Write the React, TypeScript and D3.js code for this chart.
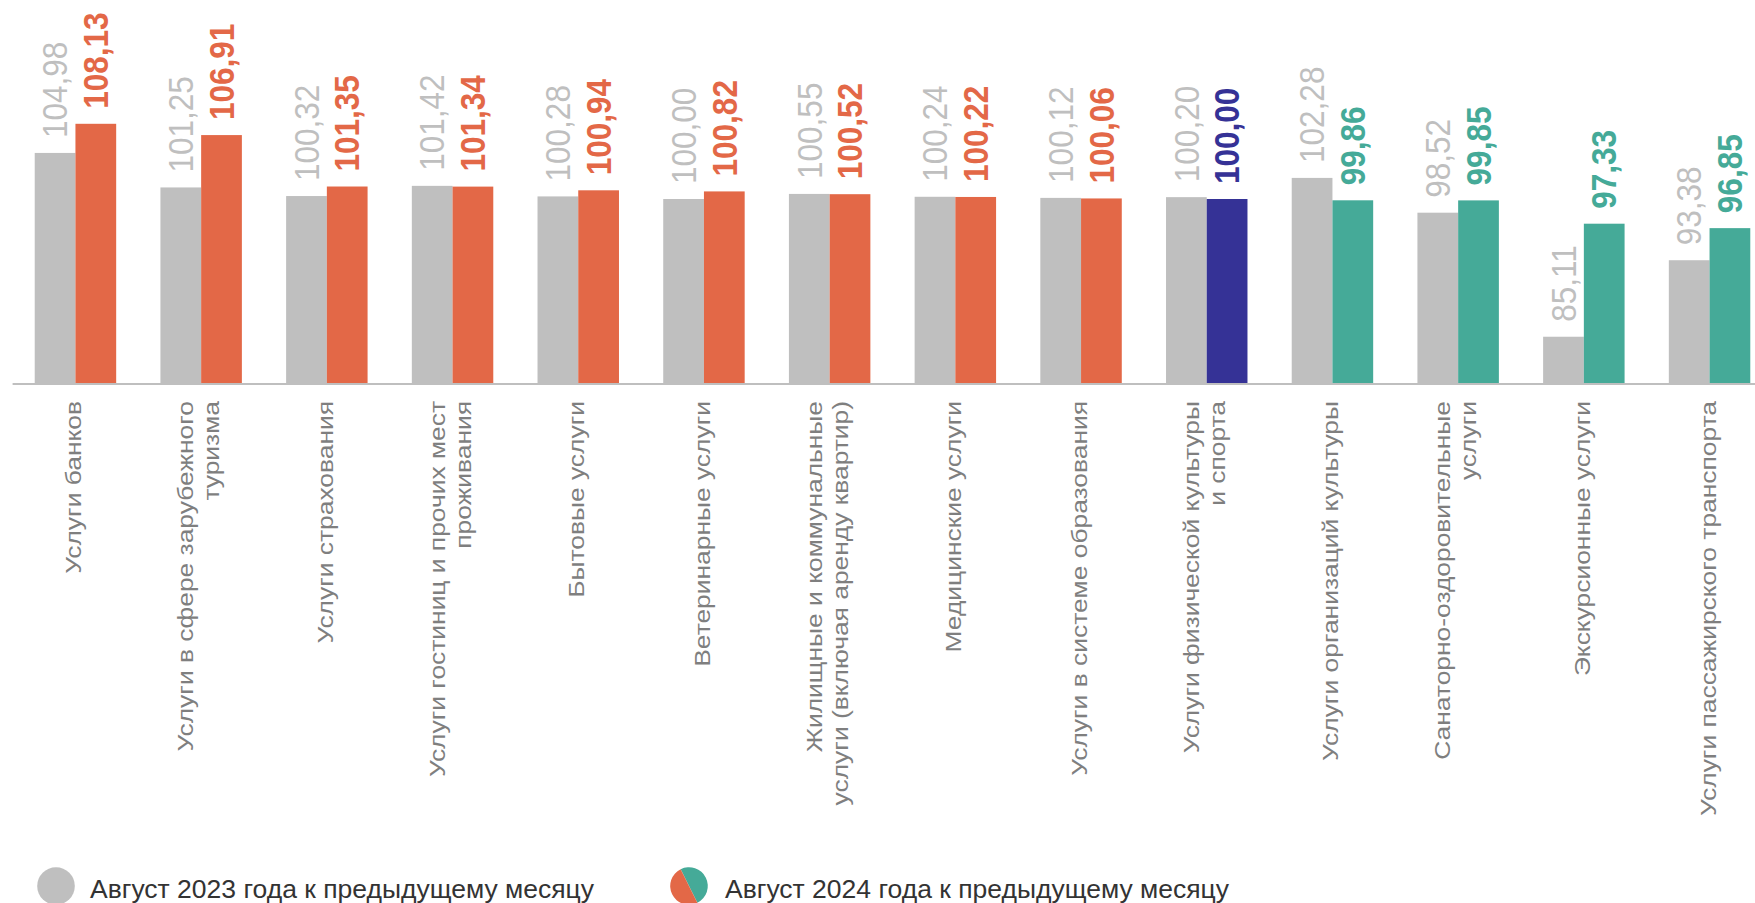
import * as d3 from "d3";

const categories = [
  "Услуги банков",
  "Услуги в сфере зарубежного\nтуризма",
  "Услуги страхования",
  "Услуги гостиниц и прочих мест\nпроживания",
  "Бытовые услуги",
  "Ветеринарные услуги",
  "Жилищные и коммунальные\nуслуги (включая аренду квартир)",
  "Медицинские услуги",
  "Услуги в системе образования",
  "Услуги физической культуры\nи спорта",
  "Услуги организаций культуры",
  "Санаторно-оздоровительные\nуслуги",
  "Экскурсионные услуги",
  "Услуги пассажирского транспорта",
];

const values2023 = [104.98, 101.25, 100.32, 101.42, 100.28, 100.0, 100.55, 100.24, 100.12, 100.2, 102.28, 98.52, 85.11, 93.38];
const values2024 = [108.13, 106.91, 101.35, 101.34, 100.94, 100.82, 100.52, 100.22, 100.06, 100.0, 99.86, 99.85, 97.33, 96.85];

const seriesKeys = ["2023", "2024"];
const seriesLabels = ["Август 2023 года к предыдущему месяцу", "Август 2024 года к предыдущему месяцу"];

const GRAY = "#bfbfbf";
const ORANGE = "#e36847";
const TEAL = "#45aa98";
const NAVY = "#353296";

const width = 1755;
const height = 903;
const baseline = 384;
const font = "'Liberation Sans', Arial, sans-serif";

function colorFor2024(v: number) {
  if (v > 100) return ORANGE;
  if (v < 100) return TEAL;
  return NAVY;
}

const fmt = (v: number) => v.toFixed(2).replace(".", ",");

export default function App() {
  const x = d3.scaleBand<string>().domain(categories).range([12.6, 1772.4]).paddingInner(0.352).paddingOuter(0.176);
  const inner = d3.scaleBand<string>().domain(seriesKeys).range([0, x.bandwidth()]);
  const y = d3.scaleLinear().domain([80, 110]).range([baseline, 106.5]);

  const pieArc = d3.arc<{ startAngle: number; endAngle: number }>().innerRadius(0).outerRadius(18.8);
  const split = -0.46;

  return (
    <svg
      width={width}
      height={height}
      viewBox={`0 0 ${width} ${height}`}
      style={{ position: "absolute", left: 0, top: 0, display: "block", background: "#fff" }}
      fontFamily={font}
    >
      {categories.map((cat, i) => {
        const x0 = x(cat) ?? 0;
        const pair = [values2023[i], values2024[i]];
        return (
          <g key={cat} transform={`translate(${x0},0)`}>
            {pair.map((v, s) => {
              const bx = inner(seriesKeys[s]) ?? 0;
              const fill = s === 0 ? GRAY : colorFor2024(v);
              const cx = bx + inner.bandwidth() / 2;
              return (
                <g key={s}>
                  <rect x={bx} y={y(v)} width={inner.bandwidth()} height={baseline - y(v)} fill={fill} />
                  <text
                    transform={`translate(${cx},${y(v) - 15}) rotate(-90) scale(0.9,1)`}
                    dy="0.35em"
                    fontSize={35}
                    fontWeight={s === 0 ? 400 : 700}
                    fill={fill}
                  >
                    {fmt(v)}
                  </text>
                </g>
              );
            })}
          </g>
        );
      })}

      <line x1={12.6} x2={width} y1={baseline} y2={baseline} stroke={GRAY} strokeWidth={2} />

      {categories.map((cat) => {
        const c = (x(cat) ?? 0) + x.bandwidth() / 2;
        const lines = cat.split("\n");
        return (
          <text
            key={cat}
            transform={`translate(${c},401) rotate(-90) scale(1.2,1)`}
            textAnchor="end"
            fontSize={22}
            fill="#7f7f7f"
          >
            {lines.map((ln, li) => (
              <tspan key={li} x={0} y={lines.length === 1 ? 6 : li === 0 ? -8 : 18}>
                {ln}
              </tspan>
            ))}
          </text>
        );
      })}

      <g>
        <circle cx={56} cy={886} r={18.8} fill={GRAY} />
        <text x={90} y={898} fontSize={26.5} fill="#333">
          {seriesLabels[0]}
        </text>
        <g transform="translate(689,886)">
          <path d={pieArc({ startAngle: split, endAngle: split + Math.PI }) ?? ""} fill={TEAL} />
          <path d={pieArc({ startAngle: split + Math.PI, endAngle: split + 2 * Math.PI }) ?? ""} fill={ORANGE} />
        </g>
        <text x={725} y={898} fontSize={26.5} fill="#333">
          {seriesLabels[1]}
        </text>
      </g>
    </svg>
  );
}
